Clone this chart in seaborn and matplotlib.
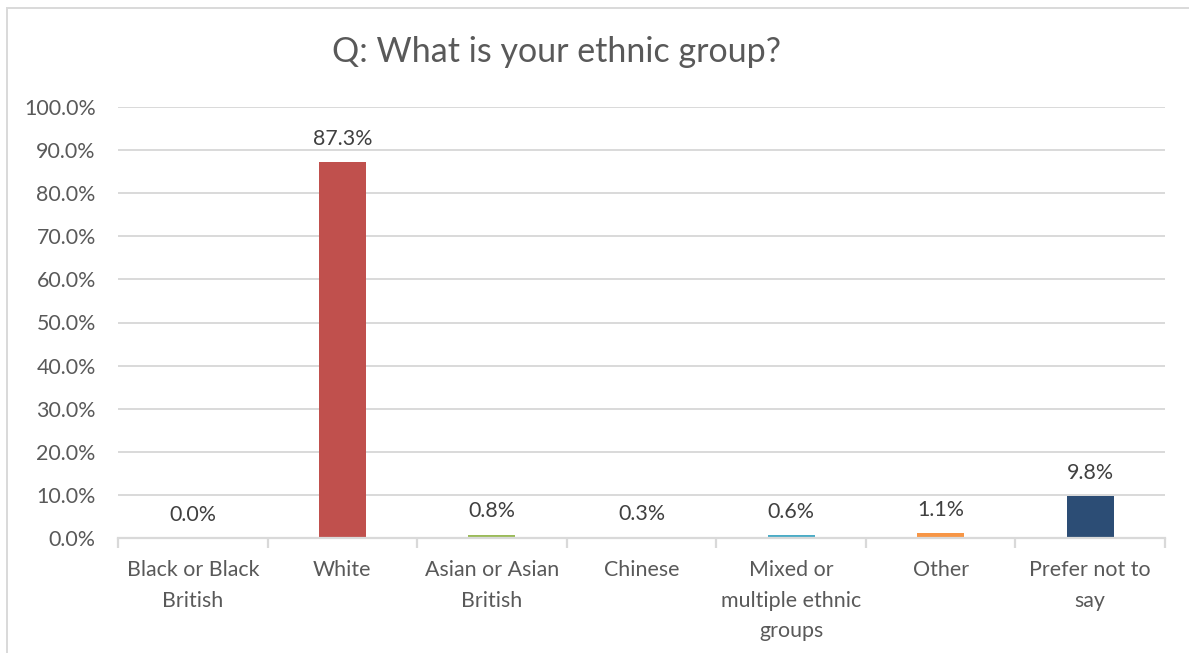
import matplotlib
matplotlib.use("Agg")
import matplotlib.pyplot as plt
from matplotlib.patches import Rectangle
from matplotlib.ticker import FuncFormatter, MultipleLocator
import seaborn as sns
import pandas as pd

categories = ["Black or Black\nBritish", "White", "Asian or Asian\nBritish", "Chinese",
              "Mixed or\nmultiple ethnic\ngroups", "Other", "Prefer not to\nsay"]
shares = [0.0, 87.3, 0.8, 0.3, 0.6, 1.1, 9.8]
bar_colors = ["#4F81BD", "#C0504D", "#9BBB59", "#8064A2", "#4BACC6", "#F79646", "#2C4D75"]

sns.set_theme(style="white")
plt.rcParams["font.family"] = ["Lato", "DejaVu Sans"]

TEXT = "#595959"
GRID = "#D9D9D9"

df = pd.DataFrame({"group": categories, "share": shares})

fig = plt.figure(figsize=(11.89, 6.53), dpi=100)
ax = fig.add_axes([118 / 1189, 1 - 538 / 653, (1165 - 118) / 1189, (538 - 107) / 653])

sns.barplot(data=df, x="group", y="share", hue="group", palette=bar_colors,
            width=0.315, legend=False, ax=ax, saturation=1, linewidth=0)

ax.set_ylim(0, 100)
ax.set_xlim(-0.5, len(categories) - 0.5)
ax.yaxis.set_major_locator(MultipleLocator(10))
ax.yaxis.set_major_formatter(FuncFormatter(lambda v, _: f"{v:.1f}%"))
ax.grid(axis="y", color=GRID, linewidth=1.4)
ax.set_axisbelow(True)
for side in ("left", "right", "top"):
    ax.spines[side].set_visible(False)
ax.spines["bottom"].set_color(GRID)
ax.spines["bottom"].set_linewidth(1.6)
ax.set_xlabel("")
ax.set_ylabel("")

ax.tick_params(axis="y", length=0, labelsize=15.4, labelcolor=TEXT, pad=16)
ax.tick_params(axis="x", which="major", length=0, labelsize=15.4, labelcolor=TEXT, pad=16)
ax.set_xticks(range(len(categories)))
ax.set_xticklabels(categories, linespacing=1.65, va="top")
ax.set_xticks([i - 0.5 for i in range(len(categories) + 1)], minor=True)
ax.tick_params(axis="x", which="minor", length=7, width=1.6, color=GRID, bottom=True)

for i, v in enumerate(shares):
    ax.annotate(f"{v:.1f}%", (i, v), xytext=(0, 9.5), textcoords="offset points",
                ha="center", va="bottom", fontsize=15.4, color="#404040")

fig.text(556 / 1189, 1 - 52 / 653, "Q: What is your ethnic group?", ha="center", va="center",
         fontsize=24.5, color=TEXT)

fig.patches.append(Rectangle((7 / 1189, -0.05), 1.2, 1 - 8 / 653 + 0.05,
                             transform=fig.transFigure, fill=False,
                             edgecolor=GRID, linewidth=1.4))

fig.savefig("out.png", dpi=100)
